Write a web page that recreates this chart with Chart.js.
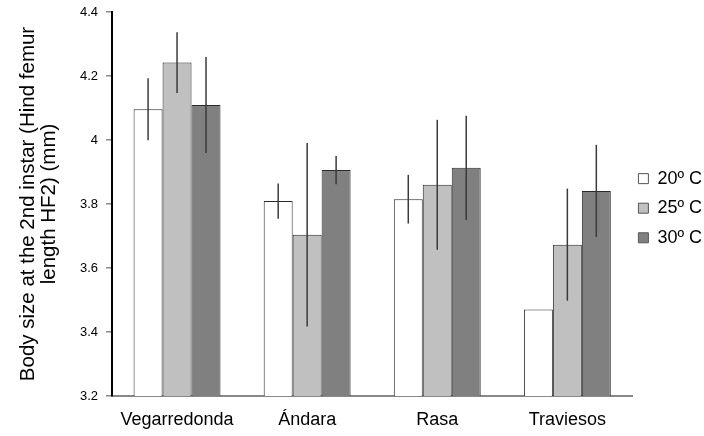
<!DOCTYPE html>
<html>
<head>
<meta charset="utf-8">
<script src="https://cdn.jsdelivr.net/npm/chart.js@4/dist/chart.umd.min.js"></script>
<style>
  html, body { margin: 0; padding: 0; background: #fff; }
  #c { display: block; }
</style>
</head>
<body>
<canvas id="c" width="704" height="436"></canvas>
<script>
const categories = ['Vegarredonda', 'Ándara', 'Rasa', 'Traviesos'];
const seriesNames = ['20º C', '25º C', '30º C'];
const mean20 = [4.096, 3.809, 3.815, 3.470];
const mean25 = [4.242, 3.704, 3.860, 3.673];
const mean30 = [4.109, 3.906, 3.913, 3.841];
const err20 = [0.097, 0.055, 0.076, 0];
const err25 = [0.095, 0.287, 0.203, 0.175];
const err30 = [0.150, 0.044, 0.163, 0.144];
const yTicks = [3.2, 3.4, 3.6, 3.8, 4.0, 4.2, 4.4];

const FONT = "'Liberation Sans', Arial, sans-serif";
const fills = ['#ffffff', '#c0c0c0', '#808080'];
const errs = [err20, err25, err30];

const errorBars = {
  id: 'errorBars',
  afterDatasetsDraw(chart) {
    const ctx = chart.ctx;
    const y = chart.scales.y;
    ctx.save();
    ctx.strokeStyle = '#3a3a3a';
    ctx.lineWidth = 1.5;
    chart.data.datasets.forEach((ds, i) => {
      const meta = chart.getDatasetMeta(i);
      meta.data.forEach((bar, j) => {
        const e = errs[i][j];
        if (!e) return;
        const v = ds.data[j];
        ctx.beginPath();
        ctx.moveTo(bar.x, y.getPixelForValue(v + e));
        ctx.lineTo(bar.x, y.getPixelForValue(v - e));
        ctx.stroke();
      });
    });
    ctx.restore();
  }
};

new Chart(document.getElementById('c'), {
  type: 'bar',
  data: {
    labels: categories,
    datasets: [mean20, mean25, mean30].map((d, i) => ({
      label: seriesNames[i],
      data: d,
      backgroundColor: fills[i],
      borderColor: '#2a2a2a',
      borderWidth: 1,
      borderSkipped: 'bottom',
      categoryPercentage: 0.668,
      barPercentage: 1.0
    }))
  },
  options: {
    responsive: false,
    animation: false,
    devicePixelRatio: 1,
    layout: { padding: { top: 12, right: -8, bottom: 0, left: 0 } },
    plugins: {
      tooltip: { enabled: false },
      legend: {
        position: 'right',
        fullSize: false,
        title: { display: true, text: ' ', color: '#000', font: { size: 10, lineHeight: 1 }, padding: 2 },
        labels: {
          boxWidth: 10,
          boxHeight: 10,
          padding: 6,
          color: '#000',
          font: { family: FONT, size: 18, lineHeight: 1.31 },
          generateLabels(chart) {
            return chart.data.datasets.map((ds, i) => ({
              text: [ds.label],
              fillStyle: ds.backgroundColor,
              strokeStyle: '#555555',
              fontColor: '#000000',
              lineWidth: 1,
              hidden: false,
              datasetIndex: i
            }));
          }
        }
      }
    },
    scales: {
      x: {
        grid: { display: false, drawTicks: false },
        border: { display: true, color: '#888888', width: 2 },
        ticks: { color: '#000', font: { family: FONT, size: 18 }, padding: 13 },
        afterFit(scale) { scale.height = 40; }
      },
      y: {
        min: 3.2,
        max: 4.4,
        afterBuildTicks(scale) { scale.ticks = yTicks.map(v => ({ value: v })); },
        grid: { display: true, drawOnChartArea: false, drawTicks: true, tickLength: 6, color: '#888888', lineWidth: 1.5 },
        border: { display: true, color: '#000000', width: 2 },
        ticks: {
          color: '#000',
          font: { family: FONT, size: 13 },
          padding: 8,
          callback(v) { return String(Math.round(v * 10) / 10); }
        },
        title: {
          display: true,
          text: ['Body size at the 2nd instar (Hind femur', 'length HF2) (mm)'],
          color: '#000',
          font: { family: FONT, size: 20.5, lineHeight: 1.02 },
          padding: { top: 18, bottom: 8 }
        },
        afterFit(scale) { scale.width = 112; scale.paddingTop = 0; scale.paddingBottom = 0; }
      }
    }
  },
  plugins: [errorBars]
});
</script>
</body>
</html>
